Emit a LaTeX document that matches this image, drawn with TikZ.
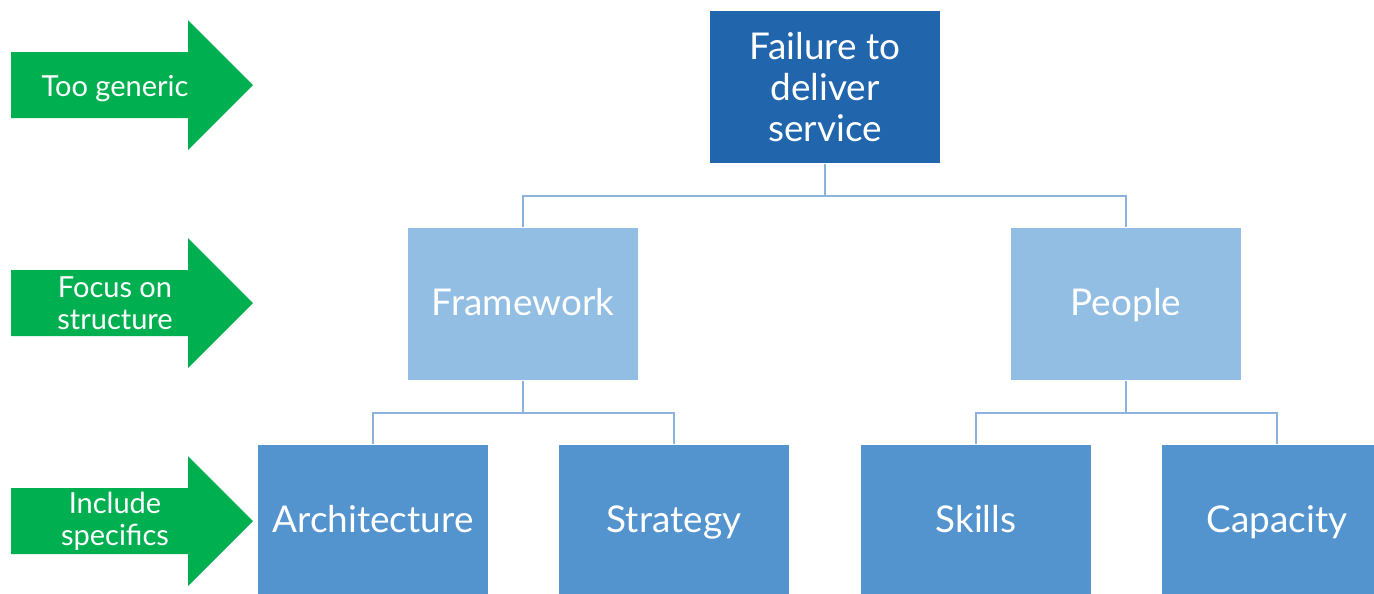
\documentclass[tikz,border=0pt]{standalone}
\usepackage{fontspec}
\setmainfont{Lato}
\usepackage{tikz}

\definecolor{topblue}{HTML}{2166AD}
\definecolor{midblue}{HTML}{93BEE3}
\definecolor{lowblue}{HTML}{5394CF}
\definecolor{linkblue}{HTML}{8DB3DC}
\definecolor{arrowgreen}{HTML}{00B050}

\begin{document}
\begin{tikzpicture}
  [x=0.02cm,y=-0.02cm,
   box/.style={rectangle,minimum width=4.6cm,minimum height=3.06cm,inner sep=0pt,
     text=white,align=center,font=\fontsize{21}{23.3}\selectfont},
   oneline/.style={text height=15pt,text depth=1.6pt},
   link/.style={draw=linkblue,line width=0.8pt},
   label/.style={text=white,align=center,font=\fontsize{16.5}{18.2}\selectfont}]
  \useasboundingbox (0,0) rectangle (1374,593);

  % level arrows on the left
  \foreach \yc/\txt/\nm in {303/{Focus on\\structure}/lvlb,521/{Include\\specifics}/lvlc}{
    \fill[arrowgreen] (11,\yc-33) -- (188,\yc-33) -- (188,\yc-65) -- (253,\yc)
      -- (188,\yc+65) -- (188,\yc+33) -- (11,\yc+33) -- cycle;
    \node[label] (\nm) at (115,\yc) {\txt};
  }
  \fill[arrowgreen] (11,52) -- (188,52) -- (188,20) -- (253,85)
    -- (188,150) -- (188,118) -- (11,118) -- cycle;
  \node[label,oneline] (lvla) at (115,85) {Too generic};

  \node[box,fill=topblue] (fail)  at (825,87)   {Failure to\\deliver\\service};
  \node[box,oneline,fill=midblue] (frame) at (523,304)  {Framework};
  \node[box,oneline,fill=midblue] (ppl)   at (1126,304) {People};
  \node[box,oneline,fill=lowblue] (arch)  at (373,521)  {Architecture};
  \node[box,oneline,fill=lowblue] (strat) at (674,521)  {Strategy};
  \node[box,oneline,fill=lowblue] (skill) at (976,521)  {Skills};
  \node[box,oneline,fill=lowblue] (cap)   at (1277,521) {Capacity};

  \foreach \from/\to in {fail/frame,fail/ppl,frame/arch,frame/strat,ppl/skill,ppl/cap}
    \draw[link] (\from.south) -- ++(0,32) -| (\to.north);
\end{tikzpicture}
\end{document}
